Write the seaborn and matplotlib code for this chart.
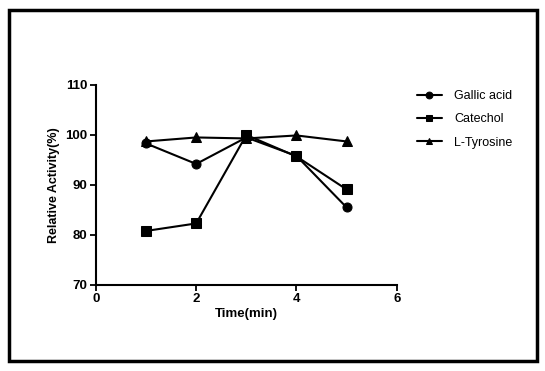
import pandas as pd
import matplotlib.pyplot as plt
import seaborn as sns
from matplotlib.patches import Rectangle

time_min = [1, 2, 3, 4, 5]
gallic_acid = [98.3, 94.2, 99.5, 95.8, 85.5]
catechol = [80.8, 82.3, 100.0, 95.7, 89.1]
l_tyrosine = [98.7, 99.5, 99.3, 99.9, 98.7]
series_names = ['Gallic acid', 'Catechol', 'L-Tyrosine']

df = pd.DataFrame({
    'Time': time_min * 3,
    'Activity': gallic_acid + catechol + l_tyrosine,
    'Compound': [n for n in series_names for _ in time_min],
})

sns.set_style('ticks')
plt.rcParams['font.family'] = ['Liberation Sans', 'DejaVu Sans']
plt.rcParams.update({'text.color': 'black', 'axes.labelcolor': 'black',
                     'xtick.color': 'black', 'ytick.color': 'black',
                     'axes.edgecolor': 'black'})

fig = plt.figure(figsize=(5.45, 3.71), dpi=100)
ax = fig.add_axes([0.176, 0.232, 0.552, 0.539])

sns.lineplot(data=df, x='Time', y='Activity', hue='Compound', style='Compound',
             markers={'Gallic acid': 'o', 'Catechol': 's', 'L-Tyrosine': '^'},
             dashes=False, palette=['black'] * 3, markersize=6.5, linewidth=1.5,
             markeredgecolor='black', ax=ax)

ax.set_xlim(0, 6)
ax.set_ylim(70, 110)
ax.set_xticks([0, 2, 4, 6])
ax.set_yticks([70, 80, 90, 100, 110])
ax.set_xlabel('Time(min)', fontsize=9.5, fontweight='bold', labelpad=2)
ax.set_ylabel('Relative Activity(%)', fontsize=9, fontweight='bold', labelpad=4)
for lbl in ax.get_xticklabels() + ax.get_yticklabels():
    lbl.set_fontweight('bold')
ax.tick_params(axis='both', labelsize=9.5, length=4, width=1.3, direction='out', pad=2)
sns.despine(ax=ax)
for s in ['left', 'bottom']:
    ax.spines[s].set_linewidth(1.5)

leg = ax.legend(loc='center left', bbox_to_anchor=(0.744, 1 - 119.5 / 371),
                bbox_transform=fig.transFigure, frameon=False, fontsize=9,
                handlelength=2.0, labelspacing=0.9, handletextpad=1.0,
                markerscale=0.75)

fig.patches.append(Rectangle((9 / 545, 10 / 371), 528 / 545, 351 / 371,
                             transform=fig.transFigure, fill=False,
                             edgecolor='black', linewidth=2.5))

fig.savefig('out.png', dpi=100)
